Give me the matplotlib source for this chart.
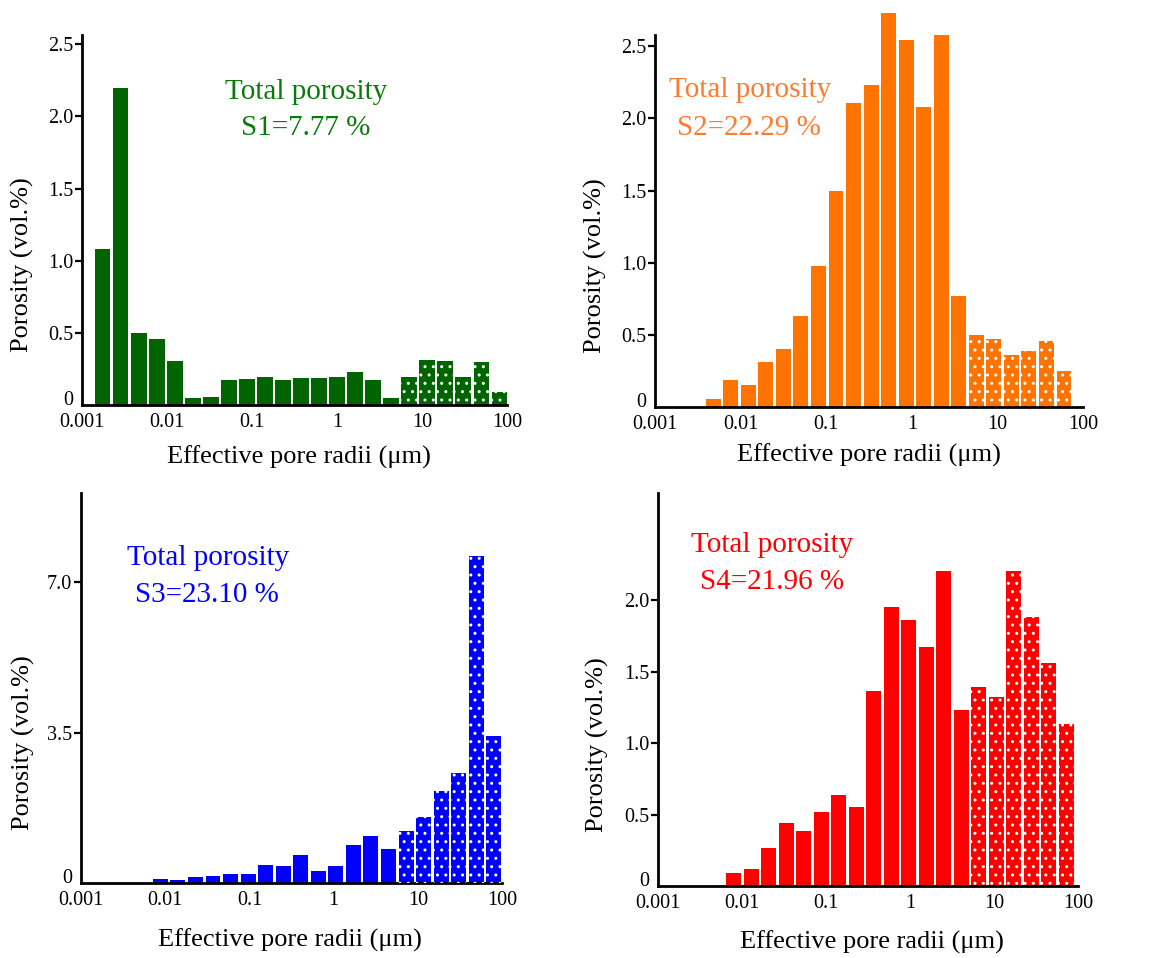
import numpy as np
import matplotlib
matplotlib.use("Agg")
import matplotlib.pyplot as plt
from matplotlib.ticker import NullLocator

plt.rcParams["font.family"] = ["Liberation Serif", "DejaVu Serif"]
plt.rcParams["hatch.linewidth"] = 1.0

W, H, DPI = 1149, 958, 100

# x axis: effective pore radius (µm), log scale
radius_ticks = [0.001, 0.01, 0.1, 1, 10, 100]
radius_tick_labels = ["0.001", "0.01", "0.1", "1", "10", "100"]

# porosity per radius bin (vol.%)
por_s1 = [1.08, 2.20, 0.50, 0.455, 0.305, 0.046, 0.058, 0.173, 0.18, 0.196,
          0.173, 0.19, 0.19, 0.196, 0.231, 0.173, 0.046,
          0.196, 0.312, 0.305, 0.196, 0.296, 0.09]
por_s2 = [0.055, 0.19, 0.155, 0.31, 0.40, 0.63, 0.975, 1.50, 2.11, 2.23,
          2.73, 2.54, 2.08, 2.58, 0.77,
          0.50, 0.47, 0.36, 0.39, 0.46, 0.25]
por_s3 = [0.10, 0.08, 0.14, 0.16, 0.21, 0.21, 0.41, 0.39, 0.64, 0.27,
          0.39, 0.89, 1.09, 0.79,
          1.21, 1.53, 2.14, 2.56, 7.61, 3.43]
por_s4 = [0.093, 0.117, 0.268, 0.443, 0.385, 0.52, 0.636, 0.555, 1.364, 1.951,
          1.858, 1.669, 2.205, 1.231,
          1.389, 1.324, 2.205, 1.883, 1.557, 1.131]

# log10 of the first and last bin-centre radius of each sample
bins_s1 = (-2.755, 1.908)
bins_s2 = (-2.32, 1.778)
bins_s3 = (-2.058, 1.903)
bins_s4 = (-2.097, 1.859)

# the largest bins (macropores) are drawn dotted
n_dotted = 6

names = ["S1", "S2", "S3", "S4"]
totals = ["7.77", "22.29", "23.10", "21.96"]
bar_colors = ["#006400", "#FF7300", "#0000FF", "#FF0000"]
text_colors = ["#0B7A0B", "#FF7A30", "#0000FF", "#FF0000"]

y_ticks = [[0, 0.5, 1.0, 1.5, 2.0, 2.5],
           [0, 0.5, 1.0, 1.5, 2.0, 2.5],
           [0, 3.5, 7.0],
           [0, 0.5, 1.0, 1.5, 2.0]]
y_tick_labels = [["0", "0.5", "1.0", "1.5", "2.0", "2.5"],
                 ["0", "0.5", "1.0", "1.5", "2.0", "2.5"],
                 ["0", "3.5", "7.0"],
                 ["0", "0.5", "1.0", "1.5", "2.0"]]
y_tops = [2.564, 2.578, 9.07, 2.75]

# axes boxes in pixels: left, top, right, bottom
boxes = [(82, 35, 507, 405), (655, 35, 1083, 407),
         (81, 493, 502, 883), (658, 493, 1078, 886)]
# centres of the two annotation lines (pixels)
note_pos = [((306, 92), (306, 128)), ((750, 90), (749, 128)),
            ((208, 558), (207, 595)), ((772, 545), (772, 582))]
# x-label centre offset below the axis, y-label offset left of the axis (pixels)
xlabel_gap = [52, 48, 57, 56]
ylabel_gap = [60, 60, 58, 61]
ylabel_frac = [0.38, 0.38, 0.36, 0.36]
xlabel_frac = [0.51, 0.50, 0.496, 0.51]

series = [por_s1, por_s2, por_s3, por_s4]
bin_ranges = [bins_s1, bins_s2, bins_s3, bins_s4]

fig = plt.figure(figsize=(W / DPI, H / DPI), dpi=DPI)

for i in range(4):
    l, t, r, b = boxes[i]
    ax = fig.add_axes([l / W, 1 - b / H, (r - l) / W, (b - t) / H])
    vals = np.asarray(series[i])
    n = len(vals)
    lo, hi = bin_ranges[i]
    exps = np.linspace(lo, hi, n)
    half = 0.85 * (hi - lo) / (n - 1) / 2
    left = 10 ** (exps - half)
    width = 10 ** (exps + half) - left

    ax.bar(left, vals, width=width, align="edge", color=bar_colors[i],
           linewidth=0, clip_on=False, zorder=2)
    ax.bar(left[-n_dotted:], vals[-n_dotted:], width=width[-n_dotted:],
           align="edge", facecolor="none", edgecolor="white", linewidth=0,
           hatch="..", clip_on=False, zorder=3)

    ax.set_xscale("log")
    ax.set_xlim(1e-3, 1e2)
    ax.set_ylim(0, y_tops[i])
    ax.set_xticks(radius_ticks, radius_tick_labels)
    ax.xaxis.set_minor_locator(NullLocator())
    ax.set_yticks(y_ticks[i], y_tick_labels[i])
    ax.tick_params(axis="x", length=0, pad=6, labelsize=14.5)
    ax.tick_params(axis="y", length=5, width=1.6, pad=1.5, labelsize=14.5)
    zero_tick = ax.yaxis.get_major_ticks()[0]
    zero_tick.tick1line.set_visible(False)
    zero_tick.label1.set_verticalalignment("baseline")

    for side in ("top", "right"):
        ax.spines[side].set_visible(False)
    for side in ("left", "bottom"):
        ax.spines[side].set_linewidth(2.0)
    ax.set_facecolor("none")

    axh = b - t
    axw = r - l
    ax.text(xlabel_frac[i], -xlabel_gap[i] / axh, "Effective pore radii (μm)",
            transform=ax.transAxes, ha="center", va="center", fontsize=19)
    ax.text(-ylabel_gap[i] / axw, ylabel_frac[i], "Porosity (vol.%)",
            transform=ax.transAxes, ha="center", va="center", fontsize=19,
            rotation=90)

    (x1, y1), (x2, y2) = note_pos[i]
    fig.text(x1 / W, 1 - y1 / H, "Total porosity", ha="center", va="center",
             fontsize=21, color=text_colors[i])
    fig.text(x2 / W, 1 - y2 / H, f"{names[i]}={totals[i]} %", ha="center",
             va="center", fontsize=21, color=text_colors[i])

fig.savefig("out.png", dpi=DPI)
